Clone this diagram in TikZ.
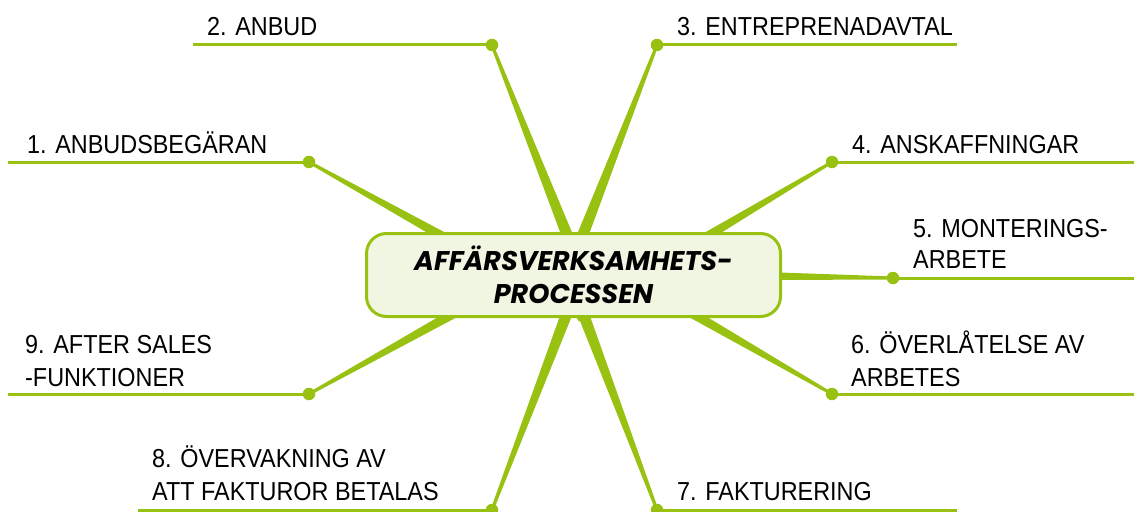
\documentclass[tikz,border=0pt]{standalone}
\usepackage{fontspec}
\setmainfont{Liberation Sans}[FakeStretch=0.9]
\newfontfamily\boxfont{Poppins}
\usetikzlibrary{calc}
\definecolor{mmgreen}{RGB}{152,193,17}
\definecolor{boxfill}{RGB}{240,246,226}
\newcommand\myspoke[3]{\fill[mmgreen] ($(#1)!1.5pt!90:(#2)$) -- ($(#2)!#3!-90:(#1)$) -- ($(#2)!#3!90:(#1)$) -- ($(#1)!1.5pt!-90:(#2)$) -- cycle;}
\begin{document}
\begin{tikzpicture}[x=1pt,y=-1pt,
  dot/.style={circle,fill=mmgreen,inner sep=0pt,minimum size=12.5pt},
  uline/.style={draw=mmgreen,line width=3pt},
  lbl/.style={anchor=base west,inner sep=0pt,font=\fontsize{26}{33}\selectfont},
  core/.style={draw=mmgreen,line width=3pt,fill=boxfill,rounded corners=20pt,
    minimum width=414pt,minimum height=83pt,align=center,
    font=\boxfont\bfseries\itshape\fontsize{27}{33}\selectfont}]
\useasboundingbox (0,0) rectangle (1134,511);
% hub points inside the central box
\coordinate (h1) at (575,310);
\coordinate (h2) at (575,255);
\coordinate (h3) at (575,255);
\coordinate (h4) at (575,315);
\coordinate (h5) at (575,273);
\coordinate (h6) at (575,246);
\coordinate (h7) at (575,292);
\coordinate (h8) at (575,292);
\coordinate (h9) at (575,246);
% dot positions
\coordinate (p1) at (309,162);
\coordinate (p2) at (492,45);
\coordinate (p3) at (657,45);
\coordinate (p4) at (832,162);
\coordinate (p5) at (893,278);
\coordinate (p6) at (832,394);
\coordinate (p7) at (657,510);
\coordinate (p8) at (492,510);
\coordinate (p9) at (309,394);
% spokes
\myspoke{p1}{h1}{7.6pt}
\myspoke{p2}{h2}{6pt}
\myspoke{p3}{h3}{6pt}
\myspoke{p4}{h4}{7.5pt}
\myspoke{p5}{h5}{7.8pt}
\myspoke{p6}{h6}{7.4pt}
\myspoke{p7}{h7}{6.1pt}
\myspoke{p8}{h8}{6.1pt}
\myspoke{p9}{h9}{7.5pt}
% central box
\node[core] (core) at (573.5,275) {AFFÄRSVERKSAMHETS-\\PROCESSEN};
% underline ends
\coordinate (e1) at (8,162);
\coordinate (e2) at (193,45);
\coordinate (e3) at (957,45);
\coordinate (e4) at (1134,162);
\coordinate (e5) at (1134,278);
\coordinate (e6) at (1134,394);
\coordinate (e7) at (957,510);
\coordinate (e8) at (138,510);
\coordinate (e9) at (8,394);
\foreach \i in {1,...,9} {\draw[uline] (p\i) -- (e\i);}
\foreach \i in {1,...,9} {\node[dot] (d\i) at (p\i) {};}
% labels
\node[lbl] (t1) at (27,153) {1. ANBUDSBEGÄRAN};
\node[lbl] (t2) at (207,36) {2. ANBUD};
\node[lbl] (t3) at (677,36) {3. ENTREPRENADAVTAL};
\node[lbl] (t4) at (852,153) {4. ANSKAFFNINGAR};
\node[lbl] (t5a) at (913,237) {5. MONTERINGS-};
\node[lbl] (t5b) at (913,268) {ARBETE};
\node[lbl] (t6a) at (851,353) {6. ÖVERLÅTELSE AV};
\node[lbl] (t6b) at (851,386) {ARBETES};
\node[lbl] (t7) at (677,500) {7. FAKTURERING};
\node[lbl] (t8a) at (152,467) {8. ÖVERVAKNING AV};
\node[lbl] (t8b) at (152,500) {ATT FAKTUROR BETALAS};
\node[lbl] (t9a) at (25,353) {9. AFTER SALES};
\node[lbl] (t9b) at (25,386) {-FUNKTIONER};
\end{tikzpicture}
\end{document}
